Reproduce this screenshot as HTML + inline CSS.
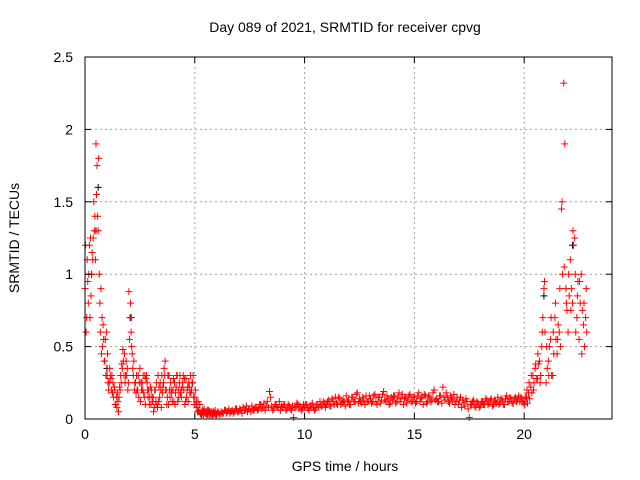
<!DOCTYPE html>
<html><head><meta charset="utf-8"><style>
body{margin:0;background:#fff}
svg{display:block;font-family:"Liberation Sans",Arial,sans-serif}
</style></head><body>
<svg id="chart" width="640" height="480">
<rect width="640" height="480" fill="#fff"/>
<text x="345" y="32" font-size="14" text-anchor="middle">Day 089 of 2021, SRMTID for receiver cpvg</text>
<text x="345" y="471" font-size="14" text-anchor="middle">GPS time / hours</text>
<text transform="translate(19,238) rotate(-90)" font-size="14" text-anchor="middle">SRMTID / TECUs</text>
<g id="grid"></g><g id="marks"></g><g id="axes"></g>
</svg>
<script>
const xTicks=[0,5,10,15,20];
const yTicks=[0,0.5,1,1.5,2,2.5];
const yTickLabels=["0","0.5","1","1.5","2","2.5"];
const tStart=0, tStep=0.1;
const seriesA=[0.9,1.1,1.2,1.0,1.5,1.9,1.3,0.6,0.5,0.4,
0.3,0.25,0.2,0.15,0.1,0.12,0.2,0.35,0.45,0.3,
0.88,0.6,0.3,0.25,0.2,0.35,0.25,0.15,0.3,0.2,
0.1,0.15,0.2,0.08,0.15,0.3,0.35,0.2,0.1,0.25,
0.2,0.1,0.3,0.25,0.15,0.2,0.28,0.12,0.3,0.25,
0.15,0.08,0.05,0.04,0.03,0.04,0.03,0.05,0.03,0.04,
0.03,0.04,0.05,0.04,0.06,0.05,0.04,0.06,0.05,0.07,
0.05,0.06,0.08,0.06,0.05,0.07,0.09,0.06,0.08,0.07,
0.1,0.08,0.06,0.12,0.19,0.09,0.07,0.1,0.08,0.06,
0.08,0.1,0.07,0.09,0.06,0.01,0.08,0.1,0.09,0.07,
0.08,0.1,0.06,0.09,0.08,0.07,0.1,0.12,0.09,0.11,
0.1,0.13,0.09,0.12,0.15,0.1,0.14,0.11,0.12,0.16,
0.13,0.1,0.15,0.12,0.18,0.14,0.11,0.13,0.16,0.12,
0.14,0.12,0.17,0.1,0.15,0.13,0.19,0.12,0.14,0.11,
0.13,0.16,0.12,0.18,0.14,0.1,0.15,0.13,0.17,0.12,
0.15,0.12,0.18,0.14,0.1,0.16,0.12,0.15,0.13,0.2,
0.14,0.12,0.16,0.22,0.13,0.15,0.11,0.14,0.17,0.12,
0.1,0.15,0.13,0.09,0.12,0.01,0.1,0.13,0.08,0.11,
0.09,0.12,0.1,0.13,0.11,0.14,0.1,0.12,0.15,0.11,
0.13,0.1,0.16,0.12,0.14,0.11,0.15,0.13,0.12,0.14,
0.12,0.15,0.18,0.22,0.3,0.35,0.28,0.4,0.5,0.9,
0.25,0.4,0.55,0.3,0.7,0.45,0.6,1.45,2.32,0.9,
0.6,1.1,0.8,1.25,0.7,0.55,1.0,0.65,0.7];
const seriesB=[0.6,0.8,1.25,1.1,1.4,1.75,1.0,0.45,0.55,0.3,
0.25,0.3,0.18,0.2,0.08,0.15,0.25,0.4,0.3,0.2,
0.7,0.45,0.2,0.3,0.15,0.25,0.3,0.1,0.2,0.15,
0.15,0.08,0.25,0.12,0.2,0.22,0.4,0.15,0.2,0.18,
0.12,0.22,0.2,0.18,0.25,0.1,0.2,0.22,0.2,0.15,
0.1,0.12,0.04,0.06,0.05,0.03,0.05,0.03,0.05,0.03,
0.05,0.03,0.04,0.06,0.04,0.07,0.05,0.04,0.07,0.05,
0.07,0.04,0.06,0.09,0.07,0.05,0.06,0.08,0.06,0.1,
0.07,0.11,0.09,0.08,0.15,0.06,0.1,0.08,0.12,0.09,
0.1,0.06,0.1,0.07,0.09,0.08,0.11,0.07,0.06,0.1,
0.1,0.07,0.09,0.11,0.06,0.1,0.08,0.09,0.12,0.08,
0.12,0.09,0.14,0.1,0.11,0.15,0.1,0.13,0.09,0.12,
0.1,0.15,0.12,0.17,0.11,0.12,0.15,0.1,0.12,0.16,
0.11,0.16,0.12,0.15,0.11,0.17,0.13,0.16,0.1,0.15,
0.16,0.11,0.15,0.12,0.17,0.14,0.11,0.16,0.12,0.15,
0.11,0.16,0.12,0.15,0.17,0.11,0.16,0.12,0.18,0.13,
0.12,0.16,0.11,0.15,0.18,0.12,0.16,0.13,0.1,0.15,
0.13,0.08,0.11,0.14,0.07,0.1,0.12,0.09,0.12,0.08,
0.12,0.1,0.14,0.1,0.13,0.09,0.13,0.11,0.1,0.14,
0.1,0.14,0.12,0.15,0.11,0.14,0.12,0.16,0.15,0.11,
0.15,0.11,0.14,0.18,0.25,0.28,0.38,0.3,0.7,0.6,
0.35,0.5,0.3,0.45,0.55,0.65,0.5,1.0,1.9,0.75,
0.85,0.9,1.2,0.6,0.95,0.8,0.75,0.5,0.6];
const morningStart=0;
const seriesC=[1.2,0.95,0.7,1.15,1.3,1.55,1.8,0.9,0.65,0.55,
0.45,0.35,0.3,0.22,0.15,0.05,0.3,0.48,0.25,0.35,
0.55,0.5,0.4,0.18,0.3,0.12,0.2,0.3,0.25,0.1,
0.2,0.05,0.12,0.3,0.25,0.18,0.3,0.1,0.3,0.2,
0.28,0.18,0.12,0.3,0.22,0.28,0.15,0.25,0.18,0.3,
0.2,0.05,0.1,0.03,0.07,0.04,0.06,0.04,0.03,0.06];
const seriesE=[0.7,1.0,0.85,1.25,1.1,1.4,0.8,0.7,0.4,0.6,
0.2,0.28,0.25,0.1,0.18,0.22,0.38,0.3,0.4,0.25,
0.8,0.35,0.25,0.2,0.25,0.2,0.18,0.28,0.15,0.22,
0.12,0.2,0.1,0.22,0.08,0.25,0.2,0.3,0.15,0.12,
0.25,0.3,0.15,0.2,0.3,0.12,0.22,0.18,0.25,0.1,
0.12,0.06,0.03,0.05,0.04,0.06,0.03,0.05,0.04,0.03];
const eveningStart=20;
const seriesD=[0.1,0.2,0.25,0.3,0.2,0.38,0.45,0.25,0.6,0.95,
0.5,0.3,0.7,0.6,0.8,0.55,0.9,1.5,1.05,0.8,
1.0,0.75,1.3,1.0,0.85,0.95,0.45,0.8,0.9];
const blackTimes=[0.3,0.5,0.6,1.0,2.1,20.9,21.7,22.2];
const blackValues=[1.0,1.3,1.6,0.35,0.7,0.85,1.45,1.2];

const L=85,R=612,T=57,B=419;
const X=v=>L+(v-0)/24*(R-L);
const Y=v=>B-(v-0)/2.5*(B-T);
const NS="http://www.w3.org/2000/svg";
function mk(tag,attrs,parent){const e=document.createElementNS(NS,tag);for(const k in attrs)e.setAttribute(k,attrs[k]);parent.appendChild(e);return e;}
const grid=document.getElementById('grid'),marks=document.getElementById('marks'),axes=document.getElementById('axes');
xTicks.forEach(t=>{
 if(t>0){const g=mk('line',{x1:X(t),x2:X(t),y1:T,y2:B,stroke:'#a0a0a0','stroke-dasharray':'2,3'},grid);
 
 }
 mk('line',{x1:X(t),x2:X(t),y1:B,y2:B-6,stroke:'#000'},axes);
 mk('line',{x1:X(t),x2:X(t),y1:T,y2:T+6,stroke:'#000'},axes);
 const tx=mk('text',{x:X(t),y:B+20,'font-size':14,'text-anchor':'middle'},axes);tx.textContent=t;
 
 
});
yTicks.forEach((t,i)=>{
 if(t>0&&t<2.5){const g=mk('line',{x1:L,x2:R,y1:Y(t),y2:Y(t),stroke:'#a0a0a0','stroke-dasharray':'2,3'},grid);
 
 }
 mk('line',{x1:L,x2:L+6,y1:Y(t),y2:Y(t),stroke:'#000'},axes);
 mk('line',{x1:R,x2:R-6,y1:Y(t),y2:Y(t),stroke:'#000'},axes);
 const tx=mk('text',{x:L-12,y:Y(t)+5,'font-size':14,'text-anchor':'end'},axes);tx.textContent=yTickLabels[i];
 
 
});
const frame=mk('rect',{x:L,y:T,width:R-L,height:B-T,fill:'none',stroke:'#000'},axes);


function plus(x,y,c,name){const g=mk('path',{d:`M${x-3.5},${y}h7M${x},${y-3.5}v7`,stroke:c,'stroke-width':1,fill:'none'},marks);
 
 }
blackTimes.forEach((t,i)=>plus(X(t),Y(blackValues[i]),'#000','black-point'));
seriesA.forEach((v,i)=>plus(X(tStart+i*tStep),Y(v),'#f00','srmtid-point'));
seriesB.forEach((v,i)=>plus(X(tStart+i*tStep+0.05),Y(v),'#f00','srmtid-point'));
seriesC.forEach((v,i)=>plus(X(morningStart+i*tStep+0.025),Y(v),'#f00','srmtid-point'));
seriesE.forEach((v,i)=>plus(X(morningStart+i*tStep+0.075),Y(v),'#f00','srmtid-point'));
seriesD.forEach((v,i)=>plus(X(eveningStart+i*tStep+0.025),Y(v),'#f00','srmtid-point'));
</script>
</body></html>
